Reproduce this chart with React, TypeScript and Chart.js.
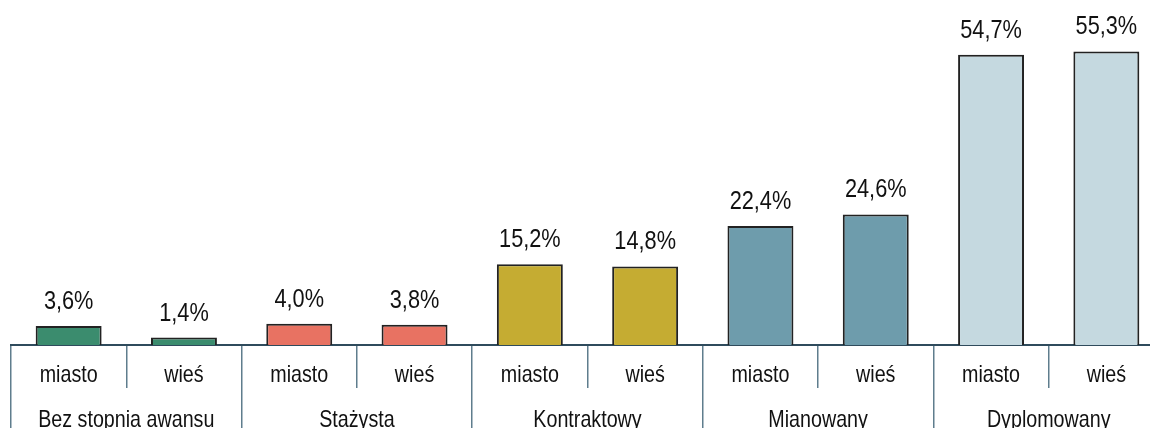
import React, { useEffect, useRef } from "react";
import { Chart, registerables } from "chart.js";

Chart.register(...registerables);

const categories = ["miasto", "wieś", "miasto", "wieś", "miasto", "wieś", "miasto", "wieś", "miasto", "wieś"];
const groups = ["Bez stopnia awansu", "Stażysta", "Kontraktowy", "Mianowany", "Dyplomowany"];
const values = [3.6, 1.4, 4.0, 3.8, 15.2, 14.8, 22.4, 24.6, 54.7, 55.3];
const valueLabels = ["3,6%", "1,4%", "4,0%", "3,8%", "15,2%", "14,8%", "22,4%", "24,6%", "54,7%", "55,3%"];
const groupColors = ["#3b8c6e", "#e87262", "#c5ac32", "#6e9cac", "#c5d9e0"];

const FONT = "'Liberation Sans', Arial, sans-serif";
const NARROW = 0.82;

const barColors = values.map((_, i) => groupColors[Math.floor(i / 2)]);

function drawNarrow(ctx: any, text: string, x: number, y: number) {
  ctx.save();
  ctx.translate(x, y);
  ctx.scale(NARROW, 1);
  ctx.fillText(text, 0, 0);
  ctx.restore();
}

const textPlugin = {
  id: "narrowTexts",
  afterDraw(chart: any) {
    const ctx = chart.ctx;
    ctx.save();
    ctx.fillStyle = "#111";
    ctx.textAlign = "center";
    ctx.textBaseline = "alphabetic";
    // value labels above bars
    ctx.font = `26.5px ${FONT}`;
    const meta = chart.getDatasetMeta(0);
    meta.data.forEach((el: any, i: number) => {
      drawNarrow(ctx, valueLabels[i], el.x, el.y - 17);
    });
    // category tick labels
    ctx.font = `24px ${FONT}`;
    const xs = chart.scales.x;
    categories.forEach((c, i) => {
      drawNarrow(ctx, c, xs.getPixelForTick(i), xs.top + 37);
    });
    const xs2 = chart.scales.x2;
    groups.forEach((g, i) => {
      drawNarrow(ctx, g, xs2.getPixelForTick(i), xs2.top + 39);
    });
    ctx.restore();
  },
};

export default function App() {
  const ref = useRef<HTMLCanvasElement>(null);
  useEffect(() => {
    document.body.style.margin = "0";
    const chart = new Chart(ref.current!, {
      type: "bar",
      data: {
        labels: categories,
        datasets: [
          {
            data: values,
            backgroundColor: barColors,
            borderColor: "#222",
            borderWidth: 2,
            barPercentage: 0.572,
            categoryPercentage: 1,
            xAxisID: "x",
          },
        ],
      },
      plugins: [textPlugin],
      options: {
        animation: false,
        responsive: false,
        maintainAspectRatio: false,
        layout: { padding: { left: 11, right: 11, top: 0, bottom: 0 } },
        plugins: { legend: { display: false }, tooltip: { enabled: false } },
        scales: {
          y: { display: false, min: 0, max: 65 },
          x: {
            position: "bottom",
            offset: true,
            grid: {
              offset: true,
              drawOnChartArea: false,
              drawTicks: true,
              tickLength: 43,
              color: "#5f7d8d",
              lineWidth: 1.5,
            },
            border: { display: true, color: "#2f4b5c", width: 2 },
            ticks: { display: false, autoSkip: false },
            afterFit: (scale: any) => {
              scale.height = 43;
            },
          },
          x2: {
            type: "category",
            labels: groups,
            position: "bottom",
            offset: true,
            grid: {
              offset: true,
              drawOnChartArea: false,
              drawTicks: true,
              tickLength: 50,
              color: "#5f7d8d",
              lineWidth: 1.5,
            },
            border: { display: false },
            ticks: { display: false, autoSkip: false },
            afterFit: (scale: any) => {
              scale.height = 50;
            },
          },
        },
      },
    });
    return () => chart.destroy();
  }, []);
  return (
    <div style={{ position: "fixed", left: 0, top: 0, width: 1150, height: 428, overflow: "hidden", background: "#fff" }}>
      <canvas ref={ref} width={1175} height={438} style={{ display: "block", width: 1175, height: 438 }} />
    </div>
  );
}
